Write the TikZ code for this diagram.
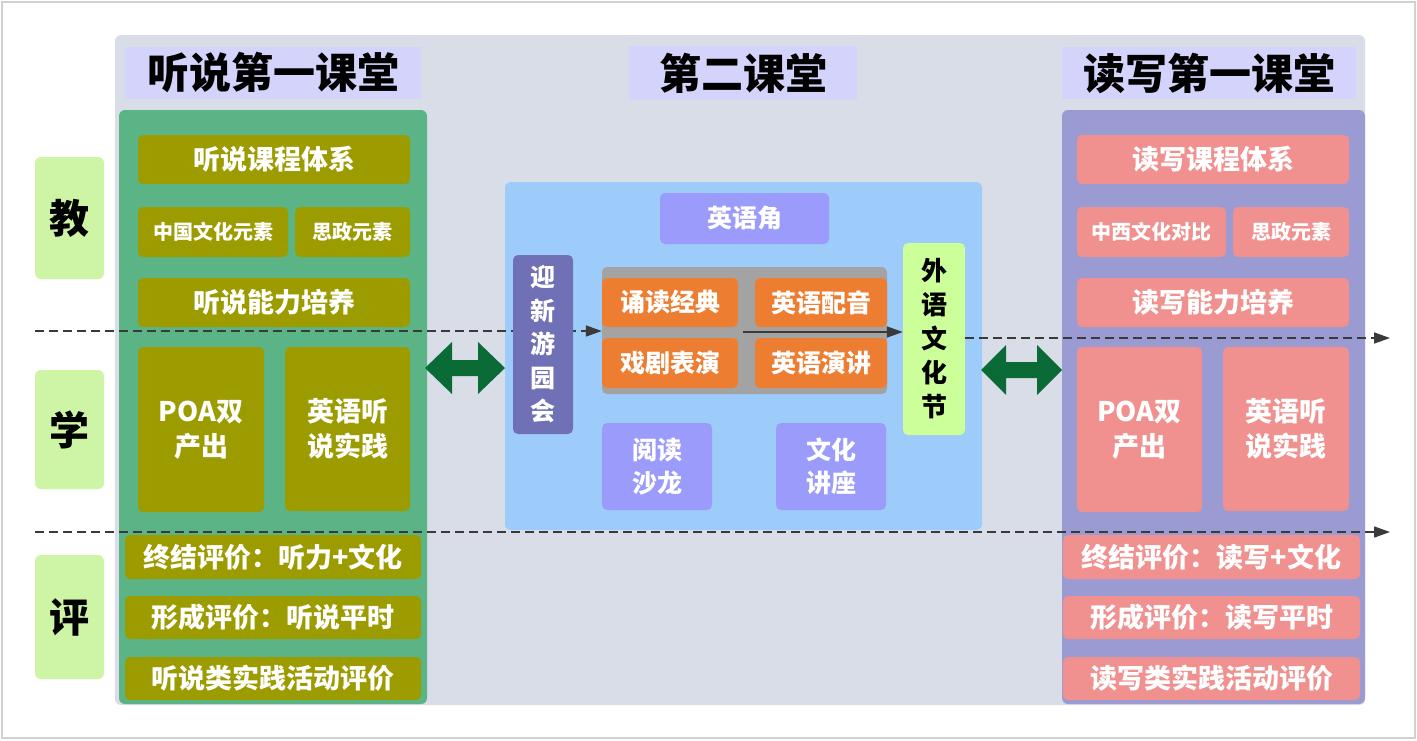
\documentclass[tikz,border=0pt]{standalone}
\usepackage{fontspec}
\newfontfamily\cjk{Noto Sans CJK SC}
\usetikzlibrary{arrows.meta}
\definecolor{panelgray}{HTML}{D9DDE7}
\definecolor{titlelav}{HTML}{D3D3FB}
\definecolor{greenpanel}{HTML}{5BB486}
\definecolor{olive}{HTML}{9C9B00}
\definecolor{labelgreen}{HTML}{CDF5A5}
\definecolor{lightblue}{HTML}{9DCBFA}
\definecolor{periwinkle}{HTML}{9B9BFB}
\definecolor{slate}{HTML}{6F70B5}
\definecolor{graybox}{HTML}{A3A3A3}
\definecolor{orangebox}{HTML}{ED7D31}
\definecolor{festgreen}{HTML}{CCFF99}
\definecolor{purplepanel}{HTML}{9B9BD3}
\definecolor{pinkbox}{HTML}{F0908F}
\definecolor{darkarrow}{HTML}{0A6B36}
\definecolor{lineclr}{HTML}{3A3A3A}
\newcommand{\bx}[7]{\node[#6, minimum width={#4pt-#2pt}, minimum height={#5pt-#3pt}] (#1) at ({(#2+#4)/2},{(#3+#5)/2}) {#7};}
\begin{document}
\begin{tikzpicture}[x=1pt,y=-1pt,
  base/.style={rounded corners=5pt, inner sep=0pt, align=center},
  title/.style={base, rounded corners=0pt, fill=titlelav, text=black, font=\cjk\bfseries\fontsize{42}{46}\selectfont},
  lab/.style={base, rounded corners=6pt, fill=labelgreen, text=black, font=\cjk\bfseries\fontsize{40}{44}\selectfont},
  wt/.style={base, text=white, font=\cjk\bfseries\fontsize{27}{35}\selectfont},
  ws/.style={base, text=white, font=\cjk\bfseries\fontsize{20}{26}\selectfont},
  olivebox/.style={wt, fill=olive},
  olivesmall/.style={ws, fill=olive},
  pinkb/.style={wt, fill=pinkbox},
  pinksmall/.style={ws, fill=pinkbox},
  orangeb/.style={wt, fill=orangebox, font=\cjk\bfseries\fontsize{25}{33}\selectfont},
  perib/.style={wt, fill=periwinkle, font=\cjk\bfseries\fontsize{25}{33}\selectfont},
  dashline/.style={draw=lineclr, line width=1.6pt, dash pattern=on 9pt off 5pt, -{Triangle[length=16pt,width=11pt]}},
  solidline/.style={draw=lineclr, line width=1.6pt, -{Triangle[length=16pt,width=11pt]}},
  dblarrow/.style={fill=darkarrow, draw=none}
]
\useasboundingbox (0,0) rectangle (1417,740);
\fill[white] (0,0) rectangle (1417,740);
\draw[black!18, line width=1.5pt] (2,2) rectangle (1415,738);

% main gray panel
\fill[panelgray, rounded corners=6pt] (115,35) rectangle (1365,705);

% titles
\bx{t1}{125}{47}{421}{99}{title}{听说第一课堂}
\bx{t2}{629}{46}{857}{100}{title}{第二课堂}
\bx{t3}{1062}{47}{1356}{99}{title}{读写第一课堂}

% side labels
\bx{jiao}{35}{157}{104}{279}{lab}{教}
\bx{xue}{35}{370}{104}{489}{lab}{学}
\bx{ping}{35}{555}{104}{679}{lab}{评}

% panels
\fill[greenpanel, rounded corners=6pt] (119,110) rectangle (427,704);
\fill[purplepanel, rounded corners=6pt] (1062,110) rectangle (1365,704);
\fill[lightblue, rounded corners=6pt] (505,182) rectangle (982,530);

% connector end points
\coordinate (La) at (35,331);
\coordinate (Lb) at (35,532);
\coordinate (Rb) at (1390,532);
\coordinate (Ra) at (1390,338);
\coordinate (Sa) at (743,332);

% left boxes
\bx{l1}{138}{135}{410}{184}{olivebox}{听说课程体系}
\bx{l2}{138}{207}{288}{257}{olivesmall}{中国文化元素}
\bx{l3}{295}{207}{410}{257}{olivesmall}{思政元素}
\bx{l4}{138}{278}{410}{327}{olivebox}{听说能力培养}
\bx{l5}{138}{347}{264}{512}{olivebox}{POA双\\产出}
\bx{l6}{285}{347}{410}{511}{olivebox}{英语听\\说实践}
\bx{l7}{125}{535}{421}{579}{olivebox}{终结评价：听力+文化}
\bx{l8}{125}{596}{421}{639}{olivebox}{形成评价：听说平时}
\bx{l9}{125}{657}{421}{700}{olivebox}{听说类实践活动评价}

% right boxes
\bx{r1}{1077}{135}{1349}{184}{pinkb}{读写课程体系}
\bx{r2}{1077}{207}{1226}{257}{pinksmall}{中西文化对比}
\bx{r3}{1233}{207}{1349}{257}{pinksmall}{思政元素}
\bx{r4}{1077}{278}{1349}{327}{pinkb}{读写能力培养}
\bx{r5}{1077}{347}{1202}{512}{pinkb}{POA双\\产出}
\bx{r6}{1223}{347}{1349}{511}{pinkb}{英语听\\说实践}
\bx{r7}{1063}{535}{1360}{579}{pinkb}{终结评价：读写+文化}
\bx{r8}{1063}{596}{1360}{639}{pinkb}{形成评价：读写平时}
\bx{r9}{1063}{657}{1360}{700}{pinkb}{读写类实践活动评价}

% center contents
\bx{yj}{660}{193}{829}{244}{perib}{英语角}
\fill[graybox, rounded corners=5pt] (602,267) rectangle (887,394);
\bx{sd}{602}{278}{738}{327}{orangeb}{诵读经典}
\bx{py}{755}{278}{887}{327}{orangeb}{英语配音}
\bx{xj}{602}{338}{738}{388}{orangeb}{戏剧表演}
\bx{yjiang}{755}{338}{887}{388}{orangeb}{英语演讲}
\bx{yd}{602}{423}{712}{510}{perib}{阅读\\沙龙}
\bx{wh}{776}{423}{886}{510}{perib}{文化\\讲座}

% connectors
\draw[dashline] (La) -- (La -| sd.west);
\draw[dashline] (Lb) -- (Rb);

\bx{yx}{513}{255}{573}{434}{wt, fill=slate, font=\cjk\bfseries\fontsize{25}{33.5}\selectfont}{迎\\新\\游\\园\\会}
\bx{wy}{903}{243}{965}{435}{base, fill=festgreen, text=black, font=\cjk\bfseries\fontsize{26}{34}\selectfont}{外\\语\\文\\化\\节}

\draw[solidline] (Sa) -- (Sa -| wy.west);
\draw[dashline] (Ra -| wy.east) -- (Ra);

% green double arrows
\fill[dblarrow] (425,368) -- (452,342) -- (452,360) -- (478,360) -- (478,342) -- (505,368)
  -- (478,394) -- (478,376) -- (452,376) -- (452,394) -- cycle;
\fill[dblarrow] (981,370) -- (1006,345) -- (1006,362) -- (1037,362) -- (1037,345) -- (1062,370)
  -- (1037,395) -- (1037,378) -- (1006,378) -- (1006,395) -- cycle;
\end{tikzpicture}
\end{document}
